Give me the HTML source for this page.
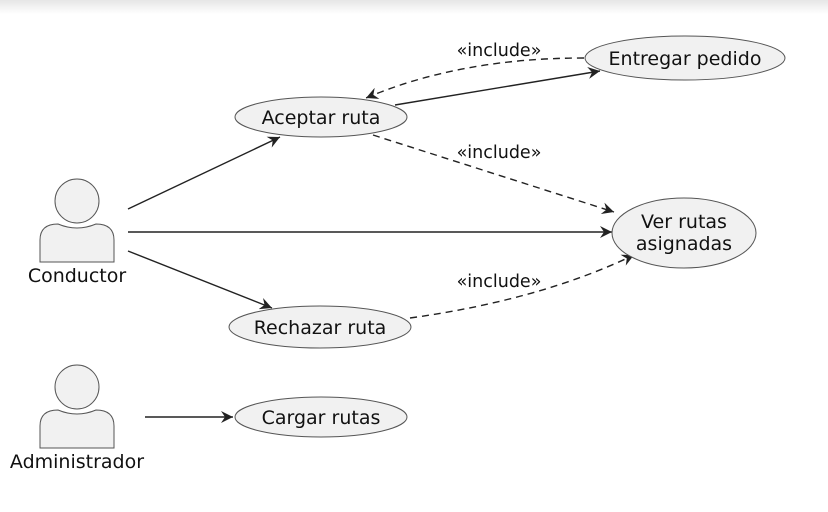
<!DOCTYPE html>
<html><head><meta charset="utf-8"><style>
html,body{margin:0;padding:0;background:#fff;}
svg{display:block;}
text{font-family:"DejaVu Sans","Liberation Sans",sans-serif;fill:#111;}
</style></head><body>
<svg width="828" height="512" viewBox="0 0 828 512" xmlns="http://www.w3.org/2000/svg">
<defs>
<linearGradient id="g" x1="0" y1="0" x2="0" y2="1"><stop offset="0" stop-color="#e6e6e6"/><stop offset="1" stop-color="#fff"/></linearGradient>
<marker id="a" markerWidth="14" markerHeight="12" refX="12" refY="6" orient="auto" markerUnits="userSpaceOnUse">
<path d="M0,0 L12,6 L0,12 L4,6 Z" fill="#222"/></marker>
</defs>
<rect x="0" y="0" width="828" height="14" fill="url(#g)"/>
<g stroke="#222" stroke-width="1.4" fill="none">
<line x1="128" y1="209" x2="280" y2="137" marker-end="url(#a)"/>
<line x1="128" y1="232" x2="612" y2="232" marker-end="url(#a)"/>
<line x1="128" y1="251" x2="272" y2="308" marker-end="url(#a)"/>
<line x1="145" y1="417" x2="233" y2="417" marker-end="url(#a)"/>
<line x1="395" y1="105" x2="600" y2="71" marker-end="url(#a)"/>
<path d="M584,58 Q460,58 366,98" stroke-dasharray="7,5" marker-end="url(#a)"/>
<line x1="373" y1="135" x2="614" y2="212" stroke-dasharray="7,5" marker-end="url(#a)"/>
<path d="M410,318 Q540,300 634,255" stroke-dasharray="7,5" marker-end="url(#a)"/>
</g>
<g fill="#f1f1f1" stroke="#555" stroke-width="1">
<ellipse cx="321" cy="117" rx="86" ry="20"/>
<ellipse cx="685" cy="58" rx="100" ry="22"/>
<ellipse cx="684" cy="233" rx="72" ry="35"/>
<ellipse cx="320" cy="327" rx="91" ry="21"/>
<ellipse cx="321" cy="417" rx="86" ry="20"/>
<circle cx="77" cy="201" r="22"/>
<path d="M40,262 L40,240 Q40,224 58,224 Q77,232 96,224 Q114,224 114,240 L114,262 Z"/>
<circle cx="77" cy="387" r="22"/>
<path d="M40,448 L40,426 Q40,410 58,410 Q77,418 96,410 Q114,410 114,426 L114,448 Z"/>
</g>
<g font-size="19" text-anchor="middle">
<text x="321" y="124">Aceptar ruta</text>
<text x="685" y="65">Entregar pedido</text>
<text x="684" y="228">Ver rutas</text>
<text x="684" y="250">asignadas</text>
<text x="320" y="334">Rechazar ruta</text>
<text x="321" y="424">Cargar rutas</text>
<text x="77" y="282">Conductor</text>
<text x="77" y="468">Administrador</text>
</g>
<g font-size="17.5" text-anchor="middle">
<text x="499" y="56">«include»</text>
<text x="499" y="158">«include»</text>
<text x="499" y="287">«include»</text>
</g>
</svg>
</body></html>
